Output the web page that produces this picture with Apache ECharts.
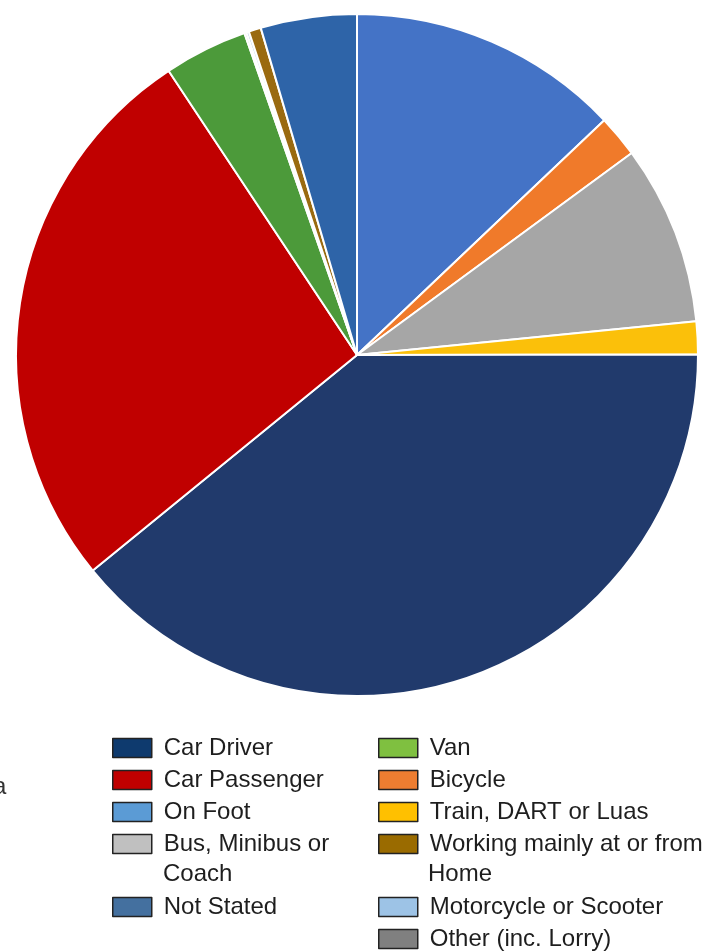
<!DOCTYPE html>
<html>
<head>
<meta charset="utf-8">
<script src="https://cdn.jsdelivr.net/npm/echarts@6/dist/echarts.min.js"></script>
<style>html,body{margin:0;padding:0;background:#fff}#c{width:716px;height:951px}</style>
</head>
<body>
<div id="c"></div>
<script>
// Pie slices in clockwise order from 12 o'clock (percent of commuters)
const categories = ['On Foot','Bicycle','Bus, Minibus or Coach','Train, DART or Luas','Car Driver','Car Passenger','Van','Other (inc. Lorry)','Motorcycle or Scooter','Working mainly at or from Home','Not Stated'];
const values = [12.9, 2.0, 8.5, 1.55, 39.1, 26.55, 3.96, 0.1, 0.12, 0.58, 4.55];
const sliceColors = ['#4473c6','#f07a2a','#a6a6a6','#fbc00a','#213a6c','#c00000','#4c9a3a','#909090','#a9c4e0','#9a6a10','#2e64a8'];
// Legend
const legendLeftTop = ['Car Driver','Car Passenger','On Foot','Bus, Minibus or Coach'];
const legendLeftBottom = ['Not Stated'];
const legendRightTop = ['Van','Bicycle','Train, DART or Luas','Working mainly at or from Home'];
const legendRightBottom = ['Motorcycle or Scooter','Other (inc. Lorry)'];
const legendColors = {
  'Car Driver':'#0e3a6e','Car Passenger':'#c00000','On Foot':'#5b9bd5','Bus, Minibus or Coach':'#c0c0c0',
  'Not Stated':'#44709f','Van':'#7fc040','Bicycle':'#ed7d31','Train, DART or Luas':'#ffc000',
  'Working mainly at or from Home':'#9a6b00','Motorcycle or Scooter':'#9dc3e6','Other (inc. Lorry)':'#808080'
};
const firstLines = {'Bus, Minibus or Coach':'Bus, Minibus or','Working mainly at or from Home':'Working mainly at or from'};
const secondLines = {'Bus, Minibus or Coach':'Coach','Working mainly at or from Home':'Home'};

const font = {fontFamily:'Liberation Sans, Arial, sans-serif', fontSize:24, color:'#1e1e1e'};
function mkLegend(names, left, top){
  return {
    orient:'vertical', left:left, top:top, height:150, padding:0, itemWidth:39, itemHeight:19, itemGap:8,
    selectedMode:false,
    textStyle:Object.assign({padding:[0,0,0,7]}, font),
    formatter:function(n){return firstLines[n] || n;},
    data:names.map(n=>({name:n, icon:'rect', itemStyle:{color:legendColors[n], borderColor:'#222', borderWidth:1.5}}))
  };
}
const chart = echarts.init(document.getElementById('c'), null, {renderer:'canvas'});
chart.setOption({
  animation:false,
  backgroundColor:'#fff',
  legend:[
    mkLegend(legendLeftTop, 112, 736),
    mkLegend(legendLeftBottom, 112, 895),
    mkLegend(legendRightTop, 378, 736),
    mkLegend(legendRightBottom, 378, 895)
  ],
  graphic:[
    {type:'text', left:163, top:862, style:{text:secondLines['Bus, Minibus or Coach'], fill:'#1e1e1e', font:'24px Liberation Sans'}},
    {type:'text', left:428, top:862, style:{text:secondLines['Working mainly at or from Home'], fill:'#1e1e1e', font:'24px Liberation Sans'}},
    {type:'text', left:-7, top:775, style:{text:'a', fill:'#333', font:'24px Liberation Sans'}}
  ],
  series:[{
    type:'pie', center:[357,355], radius:[0,341], startAngle:90, clockwise:true,
    label:{show:false}, labelLine:{show:false}, silent:true,
    itemStyle:{borderColor:'#fff', borderWidth:2},
    data:categories.map((c,i)=>({name:c, value:values[i], itemStyle:{color:sliceColors[i]}}))
  }]
});
</script>
</body>
</html>
